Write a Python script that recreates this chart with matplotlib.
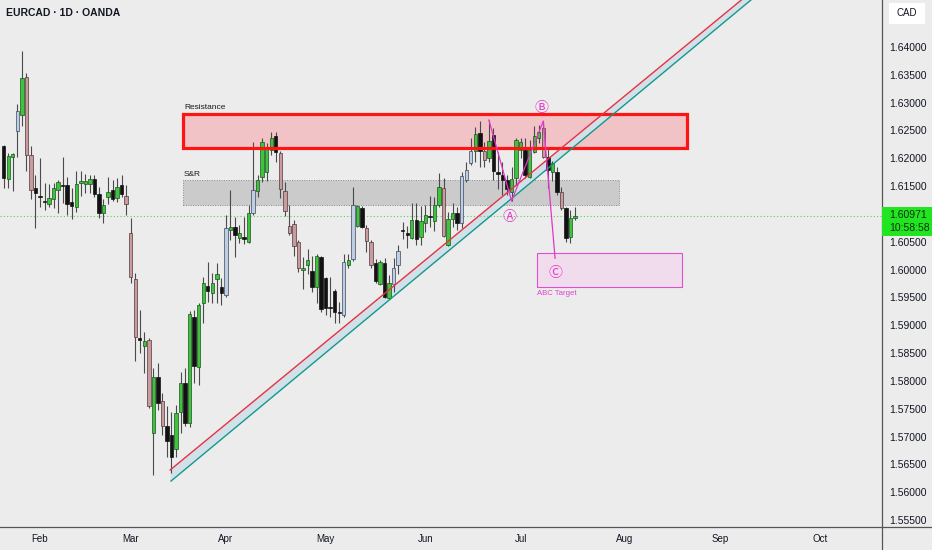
import numpy as np
import pandas as pd
import matplotlib
matplotlib.use('Agg')
import matplotlib.pyplot as plt
from matplotlib.patches import Rectangle
from matplotlib.lines import Line2D

plt.rcParams['font.family'] = ['Liberation Sans', 'DejaVu Sans']

# EURCAD daily candles (first bar = 22 Jan)
opens = [1.62221, 1.61628, 1.62023, 1.62491, 1.62778, 1.63461, 1.62059, 1.61466, 1.61322, 1.61233,
         1.61179, 1.61268, 1.61430, 1.61520, 1.61520, 1.61215, 1.61125, 1.61556, 1.61538, 1.61538,
         1.61628, 1.61358, 1.61017, 1.61304, 1.61430, 1.61286, 1.61520, 1.61322, 1.60658, 1.59831,
         1.58771, 1.58627, 1.58735, 1.57064, 1.58070, 1.57639, 1.57190, 1.57028, 1.56776, 1.57441,
         1.57962, 1.57244, 1.59148, 1.58250, 1.59400, 1.59705, 1.59580, 1.59831, 1.59687, 1.59544,
         1.60712, 1.60765, 1.60568, 1.60586, 1.60496, 1.61017, 1.61412, 1.61664, 1.61754, 1.62149,
         1.62401, 1.62095, 1.61412, 1.60783, 1.60819, 1.60496, 1.59993, 1.60083, 1.59975, 1.59687,
         1.60226, 1.59849, 1.59328, 1.59616, 1.59238, 1.59184, 1.60083, 1.60191, 1.60783, 1.61107,
         1.60747, 1.60496, 1.60119, 1.59741, 1.60119, 1.59490, 1.59741, 1.60083, 1.60712, 1.60658,
         1.60568, 1.60891, 1.60586, 1.60837, 1.60963, 1.60873, 1.61161, 1.61466, 1.60442, 1.60909,
         1.61017, 1.60837, 1.61610, 1.61916, 1.62131, 1.62455, 1.62131, 1.62005, 1.62419, 1.61754,
         1.61700, 1.61610, 1.61394, 1.61646, 1.62149, 1.62149, 1.61664, 1.62113, 1.62365, 1.62545,
         1.62023, 1.61754, 1.61754, 1.61394, 1.61107, 1.60586, 1.60927]
highs = [1.62239, 1.62095, 1.62095, 1.62976, 1.63928, 1.63533, 1.62221, 1.61700, 1.62005, 1.61556,
         1.61538, 1.61556, 1.61610, 1.62023, 1.61664, 1.61466, 1.61772, 1.61772, 1.61718, 1.61700,
         1.61700, 1.61484, 1.61268, 1.61664, 1.61610, 1.61646, 1.61700, 1.61520, 1.60927, 1.59939,
         1.59274, 1.58879, 1.58771, 1.58232, 1.58322, 1.57783, 1.57549, 1.57441, 1.57567, 1.58160,
         1.58232, 1.59256, 1.59274, 1.59400, 1.59867, 1.60137, 1.59939, 1.60119, 1.59849, 1.60981,
         1.61430, 1.60945, 1.60801, 1.60945, 1.61161, 1.62293, 1.61700, 1.62365, 1.62275, 1.62473,
         1.62473, 1.62131, 1.61574, 1.61161, 1.60891, 1.60532, 1.60226, 1.60370, 1.60244, 1.60280,
         1.60244, 1.59867, 1.59867, 1.59651, 1.59418, 1.60280, 1.60280, 1.61484, 1.61161, 1.61143,
         1.60801, 1.60532, 1.60191, 1.60173, 1.60209, 1.59903, 1.60209, 1.60442, 1.60855, 1.60783,
         1.61197, 1.61197, 1.61143, 1.61161, 1.61322, 1.61304, 1.61736, 1.61646, 1.61035, 1.61197,
         1.61125, 1.61754, 1.61934, 1.62365, 1.62563, 1.62670, 1.62293, 1.62688, 1.62545, 1.62113,
         1.61934, 1.61700, 1.61844, 1.62365, 1.62365, 1.62365, 1.62329, 1.62580, 1.62598, 1.62670,
         1.62203, 1.61952, 1.61844, 1.61484, 1.61125, 1.61071, 1.61125]
lows = [1.61466, 1.61466, 1.61412, 1.62023, 1.62580, 1.61772, 1.61268, 1.60747, 1.61125, 1.61071,
        1.61125, 1.61107, 1.61017, 1.61197, 1.60981, 1.60909, 1.61035, 1.61322, 1.61376, 1.61376,
        1.61304, 1.60927, 1.60837, 1.61179, 1.61233, 1.61215, 1.61304, 1.60981, 1.59759, 1.58358,
        1.58501, 1.58142, 1.57513, 1.56309, 1.57477, 1.57028, 1.56633, 1.56345, 1.56633, 1.57064,
        1.57190, 1.57172, 1.57962, 1.57926, 1.59040, 1.59418, 1.59400, 1.59400, 1.59364, 1.59508,
        1.60532, 1.60226, 1.60478, 1.60460, 1.60478, 1.60981, 1.61304, 1.61574, 1.61592, 1.62059,
        1.61934, 1.61286, 1.60963, 1.60622, 1.60244, 1.59957, 1.59651, 1.59921, 1.59598, 1.59400,
        1.59238, 1.59184, 1.59148, 1.59040, 1.59040, 1.59148, 1.60029, 1.60155, 1.60765, 1.60747,
        1.60316, 1.60029, 1.59759, 1.59723, 1.59490, 1.59472, 1.59598, 1.59921, 1.60550, 1.60388,
        1.60550, 1.60442, 1.60442, 1.60676, 1.60765, 1.60694, 1.61125, 1.60586, 1.60424, 1.60765,
        1.60712, 1.60747, 1.61574, 1.61880, 1.61934, 1.61844, 1.61844, 1.61934, 1.61610, 1.61448,
        1.61340, 1.61340, 1.61233, 1.61520, 1.62005, 1.61646, 1.61646, 1.62095, 1.62275, 1.62005,
        1.61466, 1.61592, 1.61340, 1.61071, 1.60496, 1.60478, 1.60891]
closes = [1.61646, 1.62041, 1.62077, 1.62850, 1.63443, 1.62059, 1.61430, 1.61376, 1.61304, 1.61215,
          1.61286, 1.61466, 1.61574, 1.61502, 1.61179, 1.61143, 1.61538, 1.61592, 1.61592, 1.61628,
          1.61358, 1.61017, 1.61161, 1.61394, 1.61268, 1.61484, 1.61358, 1.61179, 1.59867, 1.58789,
          1.58735, 1.58717, 1.57549, 1.58070, 1.57603, 1.57190, 1.56920, 1.56633, 1.57423, 1.57962,
          1.57244, 1.59202, 1.58268, 1.59364, 1.59759, 1.59616, 1.59759, 1.59921, 1.59580, 1.60747,
          1.60765, 1.60622, 1.60658, 1.60550, 1.61017, 1.61430, 1.61610, 1.62293, 1.62167, 1.62365,
          1.62113, 1.61448, 1.61053, 1.60658, 1.60424, 1.60029, 1.60029, 1.60173, 1.59687, 1.60244,
          1.59292, 1.59310, 1.59310, 1.59238, 1.59220, 1.60137, 1.60173, 1.61161, 1.61143, 1.60765,
          1.60514, 1.60083, 1.59795, 1.60137, 1.59508, 1.59759, 1.60029, 1.60334, 1.60694, 1.60622,
          1.60891, 1.60550, 1.60873, 1.60981, 1.60945, 1.61161, 1.61484, 1.60604, 1.60909, 1.61017,
          1.60837, 1.61682, 1.61790, 1.62131, 1.62437, 1.62131, 1.61969, 1.62311, 1.61772, 1.61718,
          1.61610, 1.61448, 1.61628, 1.62329, 1.62293, 1.61700, 1.62149, 1.62401, 1.62473, 1.62023,
          1.61790, 1.61916, 1.61394, 1.61107, 1.60568, 1.60927, 1.60971]
# candle tone as drawn on the chart: g green, k black, p rose, b pale blue
tones = list("kggbgppkkk" "gggkkkgggg" "kkggkgkppp" "kgpgkpkkgg" "kgkggkggkb"
             "gkgkgbgggg" "kpppppggkg" "kkkkkbgbgk" "ppkgkgbbkk" "gkggkggpgg"
             "kbbbgkpgkk" "kkgggkgggp" "kgkpkgg")

last_price = 1.60971
countdown = "10:58:58"

# drawings (bar index, price)
red_line = ([36.7, 129.3], [1.56399, 1.62607])
teal_line = ([36.9, 129.3], [1.56201, 1.62446])
abc_x = [107, 112, 119, 121.6]
abc_y = [1.62688, 1.61233, 1.62670, 1.60204]
resistance = (39.5, 150.7, 1.62185, 1.62796)
snr = (39.5, 135.7, 1.61161, 1.61610)
abc_target = (117.6, 149.6, 1.59687, 1.60298)

n = len(opens)
x = np.arange(n)
o = np.array(opens); c = np.array(closes)
all_days = pd.bdate_range('2025-01-22', periods=200)
xmin, xmax = -0.82, 193.7
ymin, ymax = 1.55375, 1.648445

W, H = 932, 550
fig = plt.figure(figsize=(W / 100, H / 100), dpi=100, facecolor='#ececec')
ax = fig.add_axes([0, 23 / H, 882 / W, 527 / H])
ax.set_facecolor('#ececec')
ax.set_xlim(xmin, xmax)
ax.set_ylim(ymin, ymax)

# zones (fills under the candles)
x0, x1, y0, y1 = resistance
ax.add_patch(Rectangle((x0, y0), x1 - x0, y1 - y0, facecolor='#f1c3c6', edgecolor='none', zorder=1))
ax.add_patch(Rectangle((x0, y0), x1 - x0, y1 - y0, facecolor='none', edgecolor='#ff1414', lw=2.3, zorder=6))
x0, x1, y0, y1 = snr
ax.add_patch(Rectangle((x0, y0), x1 - x0, y1 - y0, facecolor='#cbcbcb', edgecolor='#8a8a8a',
                       lw=0.7, ls=(0, (1, 1.5)), zorder=1))
x0, x1, y0, y1 = abc_target
ax.add_patch(Rectangle((x0, y0), x1 - x0, y1 - y0, facecolor='#f1dcee', edgecolor='#e04fd0', lw=0.8, zorder=1))

ax.text(39.75, 1.62913, 'Resistance', fontsize=6, color='#1a1a1a', va='center', zorder=7)
ax.text(39.75, 1.61709, 'S&R', fontsize=6, color='#1a1a1a', va='center', zorder=7)
ax.text(117.66, 1.59574, 'ABC Target', fontsize=5.6, color='#e040cf', va='center', zorder=7)

# trend channel
xs = np.linspace(36.8, xmax, 50)
def line_at(pts, xv):
    (xa, xb), (ya, yb) = pts
    return ya + (yb - ya) / (xb - xa) * (xv - xa)
ax.fill_between(xs, line_at(teal_line, xs), line_at(red_line, xs), color='#d2e0ea', lw=0, zorder=1.5)
xr = np.array([red_line[0][0], xmax])
xt = np.array([teal_line[0][0], xmax])
ax.plot(xr, line_at(red_line, xr), color='#e8323f', lw=1.0, zorder=6)
ax.plot(xt, line_at(teal_line, xt), color='#12998a', lw=1.0, zorder=6)

# current price line
ax.axhline(last_price, color='#58d058', lw=0.8, ls=(0, (1, 2)), zorder=2)

# candles
face = {'g': '#3cc43c', 'k': '#121212', 'p': '#c99b9e', 'b': '#c0cee2'}
edge = {'g': '#1f4f1f', 'k': '#121212', 'p': '#4d3a3a', 'b': '#3a4760'}
ax.vlines(x, lows, highs, color='#4a4a4a', lw=0.8, zorder=3)
bottoms = np.minimum(o, c)
heights = np.maximum(np.abs(c - o), 0.00007)
ax.bar(x, heights, bottom=bottoms, width=0.75, color=[face[t] for t in tones],
       edgecolor=[edge[t] for t in tones], linewidth=0.5, zorder=4)

# ABC swing
ax.plot(abc_x, abc_y, color='#e535c8', lw=0.9, zorder=7)
for lab, lx, ly in [('Ⓐ', 111.6, 1.60951), ('Ⓑ', 118.6, 1.62909), ('Ⓒ', 121.6, 1.59934)]:
    ax.text(lx, ly, lab, fontsize=10, color='#e535c8', ha='center', va='center',
            family=['Noto Sans CJK JP', 'Noto Sans CJK SC', 'DejaVu Sans'], zorder=8)

# axes
for s in ax.spines.values():
    s.set_visible(False)
yt = [round(v, 3) for v in np.arange(1.555, 1.6401, 0.005) if abs(v - 1.61) > 1e-6]
ax.yaxis.tick_right()
ax.set_yticks(yt)
ax.set_yticklabels(['%.5f' % v for v in yt])
ax.tick_params(axis='y', length=0, pad=5.2, labelsize=7.5, labelcolor='#131722')
month_pos = [i for i in range(1, len(all_days))
             if all_days[i].month != all_days[i - 1].month and i <= xmax]
ax.set_xticks(month_pos)
ax.set_xticklabels([all_days[i].strftime('%b') for i in month_pos])
ax.tick_params(axis='x', length=0, pad=5, labelsize=7, labelcolor='#131722')

fig.add_artist(Line2D([882 / W, 882 / W], [0, 1], transform=fig.transFigure, color='#555555', lw=0.9))
fig.add_artist(Line2D([0, 1], [23 / H, 23 / H], transform=fig.transFigure, color='#555555', lw=0.9))

fig.text(6 / W, 1 - 13 / H, 'EURCAD · 1D · OANDA', fontsize=7.5, fontweight='bold',
         color='#131722', va='center')
fig.add_artist(Rectangle((889 / W, 1 - 24 / H), 36 / W, 21 / H, transform=fig.transFigure,
                         facecolor='white', edgecolor='none'))
fig.text(907 / W, 1 - 13.5 / H, 'CAD', fontsize=7, color='#131722', ha='center', va='center')
fig.add_artist(Rectangle((882 / W, 1 - 236 / H), 50 / W, 29 / H, transform=fig.transFigure,
                         facecolor='#22e522', edgecolor='none', zorder=3))
fig.text(889 / W, 1 - 215 / H, '%.5f' % last_price, fontsize=7.5, color='#0d2e0d', va='center', zorder=4)
fig.text(889 / W, 1 - 228 / H, countdown, fontsize=7.5, color='#0d2e0d', va='center', zorder=4)

fig.savefig('out.png', dpi=100, facecolor=fig.get_facecolor())
